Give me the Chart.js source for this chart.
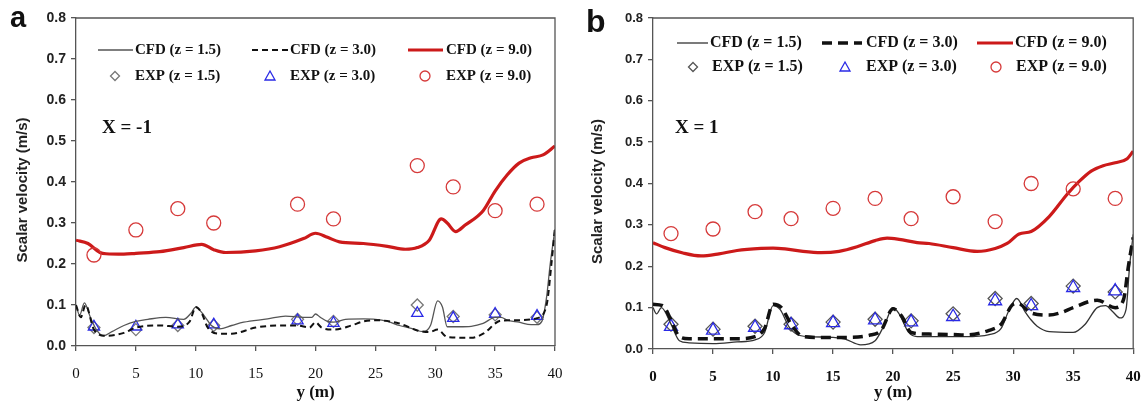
<!DOCTYPE html>
<html><head><meta charset="utf-8">
<script src="https://cdn.jsdelivr.net/npm/chart.js@4.4.0/dist/chart.umd.min.js"></script>
<style>
html,body{margin:0;padding:0;background:#fff;}
#wrap{position:relative;width:1142px;height:405px;}
canvas{position:absolute;top:0;}
#ca{left:0;} #cb{left:571px;}
</style></head>
<body><div id="wrap"><canvas id="ca" width="571" height="405"></canvas><canvas id="cb" width="571" height="405"></canvas></div>
<script>
// ---------- Panel a (X = -1) ----------
const aExpX = [1.5,5,8.5,11.5,18.5,21.5,28.5,31.5,35,38.5];
const aExp15 = [0.045,0.040,0.050,0.050,0.065,0.060,0.100,0.072,0.076,0.070];
const aExp30 = [0.047,0.047,0.052,0.052,0.062,0.056,0.080,0.068,0.078,0.073];
const aExp90 = [0.222,0.283,0.335,0.300,0.346,0.310,0.440,0.388,0.330,0.346];
const aCfd90X = [0,1,2,2.5,4,5,7,9,10.5,11.5,12.5,15,17,19,20,21,22,24,26,27.5,28.5,29.5,30.5,31,31.7,32.5,34,35,36,37,38,39,40];
const aCfd90 = [0.258,0.25,0.228,0.225,0.224,0.226,0.23,0.24,0.248,0.235,0.228,0.232,0.242,0.262,0.275,0.265,0.254,0.25,0.243,0.236,0.24,0.258,0.31,0.3,0.279,0.295,0.33,0.378,0.417,0.446,0.459,0.466,0.488];
const aCfd15X = [0,0.3,0.7,1.2,1.7,2.3,3,4,5,6,7.5,9,9.6,10,10.4,10.8,11.3,12,13,14,16,17.5,19,19.7,20,20.4,21,21.5,22.5,24,25,26,27,28,29,29.6,30.2,30.6,31,32,33,34,35,35.5,36,37,38,38.5,38.9,39.3,39.6,40];
const aCfd15 = [0.1,0.075,0.105,0.07,0.04,0.025,0.035,0.05,0.06,0.065,0.07,0.065,0.08,0.095,0.085,0.07,0.05,0.042,0.05,0.058,0.066,0.073,0.07,0.07,0.078,0.07,0.06,0.058,0.065,0.066,0.065,0.06,0.05,0.043,0.035,0.05,0.11,0.095,0.047,0.047,0.048,0.055,0.07,0.07,0.063,0.058,0.052,0.052,0.06,0.12,0.2,0.285];
const aCfd30X = [0,0.4,0.8,1.5,2.5,4,5,7,8.5,9.5,10,10.5,11,12,13,15,17,18.5,19.5,20,20.5,21.5,23,24,25,27,28.5,29.5,30.2,31,33,34,35.5,37,38.5,39.3,39.7,40];
const aCfd30 = [0.1,0.07,0.1,0.04,0.025,0.032,0.045,0.05,0.047,0.06,0.095,0.08,0.045,0.03,0.03,0.045,0.05,0.05,0.045,0.058,0.045,0.04,0.05,0.06,0.063,0.055,0.038,0.034,0.04,0.022,0.02,0.03,0.062,0.063,0.068,0.1,0.2,0.29];

// ---------- Panel b (X = 1) ----------
const bExpX = [1.5,5,8.5,11.5,15,18.5,21.5,25,28.5,31.5,35,38.5];
const bExp15 = [0.060,0.048,0.055,0.060,0.065,0.072,0.068,0.085,0.122,0.110,0.152,0.138];
const bExp30 = [0.054,0.045,0.052,0.058,0.063,0.070,0.065,0.078,0.116,0.104,0.148,0.140];
const bExp90 = [0.279,0.290,0.332,0.315,0.340,0.364,0.315,0.368,0.308,0.400,0.387,0.364];
const bCfd90X = [0,1,2.5,4,5.5,7,9,10,11,12.5,14,15.5,17,18.5,19.5,20.5,22,23,25,27,28.5,29.5,30.5,31.5,33,34.5,35.5,36.5,37.5,38.5,39.5,40];
const bCfd90 = [0.257,0.245,0.232,0.225,0.23,0.238,0.243,0.244,0.242,0.236,0.233,0.236,0.247,0.262,0.268,0.265,0.257,0.255,0.245,0.236,0.243,0.255,0.278,0.284,0.32,0.374,0.405,0.43,0.443,0.45,0.46,0.478];
const bCfd15X = [0,0.3,0.7,1.5,2.2,3,5,7,8.5,9.3,10,10.6,11.3,12,13,15,16,17.3,18.5,19.3,20,20.5,21.3,22,24,26,28,29,29.6,30.3,31,31.5,32,33,35,36,37,37.7,38.3,38.9,39.4,39.7,40];
const bCfd15 = [0.1,0.085,0.1,0.06,0.02,0.015,0.013,0.017,0.022,0.04,0.105,0.095,0.055,0.035,0.03,0.028,0.024,0.01,0.02,0.06,0.1,0.085,0.04,0.03,0.03,0.03,0.035,0.05,0.09,0.122,0.09,0.07,0.055,0.042,0.04,0.06,0.1,0.105,0.09,0.075,0.095,0.2,0.277];
const bCfd30X = [0,0.8,1.5,2.2,3,7,8.5,9.3,10,10.7,11.5,12.5,14,16,18,19,20,20.7,21.5,23,25,26,28,29,30,30.4,31.5,33,34,35,37,38.5,39.2,39.6,40];
const bCfd30 = [0.108,0.105,0.07,0.03,0.025,0.025,0.03,0.05,0.108,0.1,0.06,0.03,0.028,0.028,0.033,0.045,0.097,0.08,0.04,0.036,0.035,0.034,0.045,0.06,0.108,0.11,0.087,0.082,0.088,0.1,0.118,0.1,0.12,0.2,0.27];

// ---------- Labels ----------
const yTickLabels = ['0.0','0.1','0.2','0.3','0.4','0.5','0.6','0.7','0.8'];
const xTickLabels = ['0','5','10','15','20','25','30','35','40'];
const legendLabels = ['CFD (z = 1.5)','CFD (z = 3.0)','CFD (z = 9.0)','EXP (z = 1.5)','EXP (z = 3.0)','EXP (z = 9.0)'];
const yTitle = 'Scalar velocity (m/s)';
const xTitle = 'y (m)';

const RED = '#cc1a1a';
const pts = (xs, ys) => xs.map((x, i) => ({x: x, y: ys[i]}));

function makeChart(id, P) {
  const ds = [
    {label: legendLabels[0], data: pts(P.c15x, P.c15), showLine: true, borderColor: P.thinColor, borderWidth: 1.3, pointRadius: 0, cubicInterpolationMode: 'monotone', order: 3},
    {label: legendLabels[1], data: pts(P.c30x, P.c30), showLine: true, borderColor: '#111', borderWidth: P.dashW, borderDash: P.dash, pointRadius: 0, cubicInterpolationMode: 'monotone', order: 2},
    {label: legendLabels[2], data: pts(P.c90x, P.c90), showLine: true, borderColor: RED, borderWidth: 3.2, pointRadius: 0, cubicInterpolationMode: 'monotone', order: 1},
    {label: legendLabels[3], data: pts(P.ex, P.e15), showLine: false, pointStyle: 'rectRot', pointRadius: P.triR - 0.5, borderColor: P.diaColor, borderWidth: 1.3, backgroundColor: 'rgba(0,0,0,0)', order: 5},
    {label: legendLabels[4], data: pts(P.ex, P.e30), showLine: false, pointStyle: 'triangle', pointRadius: P.triR, borderColor: '#2a2ae6', borderWidth: 1.3, backgroundColor: 'rgba(0,0,0,0)', order: 4},
    {label: legendLabels[5], data: pts(P.ex, P.e90), showLine: false, pointStyle: 'circle', pointRadius: 7, borderColor: '#d63a3a', borderWidth: 1.3, backgroundColor: 'rgba(0,0,0,0)', order: 0}
  ];
  const deco = {
    id: 'deco',
    afterDraw(chart) {
      const c = chart.ctx, a = chart.chartArea;
      c.save();
      c.strokeStyle = '#555'; c.lineWidth = 1.3;
      c.beginPath(); c.moveTo(a.left, a.top); c.lineTo(a.right, a.top); c.lineTo(a.right, a.bottom); c.stroke();
      c.fillStyle = '#111'; c.font = 'bold ' + P.letterSize + 'px "Liberation Sans", Arial, sans-serif';
      c.textAlign = 'left'; c.textBaseline = 'alphabetic';
      c.fillText(P.letter, P.letterX, P.letterY);
      c.save(); c.translate(P.ytX, (a.top + a.bottom) / 2 + 8); c.rotate(-Math.PI / 2);
      c.font = 'bold 15px "Liberation Sans", Arial, sans-serif'; c.textAlign = 'center'; c.textBaseline = 'middle';
      c.fillStyle = '#222'; c.fillText(yTitle, 0, 0); c.restore();
      c.font = 'bold 17px "Liberation Serif", "Times New Roman", serif'; c.textAlign = 'center'; c.textBaseline = 'middle';
      c.fillText(xTitle, (a.left + a.right) / 2, 393);
      c.font = 'bold 19px "Liberation Serif", "Times New Roman", serif'; c.textAlign = 'left';
      c.fillText(P.xlabel, P.xlabelX, 128);
      c.font = 'bold ' + P.legFont + 'px "Liberation Serif", "Times New Roman", serif'; c.textBaseline = 'middle';
      const r1 = P.row1, r2 = P.row2, L = P.leg;
      c.setLineDash([]); c.strokeStyle = P.thinColor; c.lineWidth = 1.3;
      c.beginPath(); c.moveTo(L[0][0], r1); c.lineTo(L[0][1], r1); c.stroke();
      c.fillStyle = '#111'; c.fillText(legendLabels[0], L[0][2], r1);
      c.setLineDash(P.dash); c.strokeStyle = '#111'; c.lineWidth = P.dashW;
      c.beginPath(); c.moveTo(L[1][0], r1); c.lineTo(L[1][1], r1); c.stroke();
      c.setLineDash([]);
      c.fillText(legendLabels[1], L[1][2], r1);
      c.strokeStyle = RED; c.lineWidth = 3.2;
      c.beginPath(); c.moveTo(L[2][0], r1); c.lineTo(L[2][1], r1); c.stroke();
      c.fillText(legendLabels[2], L[2][2], r1);
      c.lineWidth = 1.3;
      c.strokeStyle = P.diaColor; const dx = L[0][3], s = 4.5;
      c.beginPath(); c.moveTo(dx, r2 - s); c.lineTo(dx + s, r2); c.lineTo(dx, r2 + s); c.lineTo(dx - s, r2); c.closePath(); c.stroke();
      c.fillText(legendLabels[3], L[0][4], r2);
      c.strokeStyle = '#2a2ae6'; const tx = L[1][3];
      c.beginPath(); c.moveTo(tx, r2 - 5); c.lineTo(tx + 5, r2 + 4); c.lineTo(tx - 5, r2 + 4); c.closePath(); c.stroke();
      c.fillText(legendLabels[4], L[1][4], r2);
      c.strokeStyle = '#d63a3a';
      c.beginPath(); c.arc(L[2][3], r2, 5, 0, Math.PI * 2); c.stroke();
      c.fillText(legendLabels[5], L[2][4], r2);
      c.restore();
    }
  };
  return new Chart(document.getElementById(id), {
    type: 'scatter',
    data: {datasets: ds},
    options: {
      responsive: false, animation: false, devicePixelRatio: 1,
      layout: {padding: {left: 0, right: P.padR, top: P.padT, bottom: 0}},
      plugins: {legend: {display: false}, tooltip: {enabled: false}},
      scales: {
        x: {type: 'linear', min: 0, max: 40,
            afterFit: s => { s.height = P.xH; s.paddingLeft = 0; s.paddingRight = 0; },
            afterBuildTicks: s => { s.ticks = xTickLabels.map(v => ({value: Number(v)})); },
            ticks: {callback: (v, i) => xTickLabels[i], color: '#111', padding: 14,
                    font: {family: '"Liberation Serif", "Times New Roman", serif', size: 15, weight: P.xTickWeight}},
            grid: {drawOnChartArea: false, drawTicks: true, tickLength: 5, color: '#555', lineWidth: 1.3},
            border: {display: true, color: '#555', width: 1.3}},
        y: {type: 'linear', min: 0, max: 0.8,
            afterFit: s => { s.width = P.yW; s.paddingTop = 0; s.paddingBottom = 0; },
            afterBuildTicks: s => { s.ticks = yTickLabels.map(v => ({value: Number(v)})); },
            ticks: {callback: (v, i) => yTickLabels[i], color: '#222', padding: 5,
                    font: {family: '"Liberation Sans", Arial, sans-serif', size: P.yTickSize, weight: 'bold'}},
            grid: {drawOnChartArea: false, drawTicks: true, tickLength: 5, color: '#555', lineWidth: 1.3},
            border: {display: true, color: '#555', width: 1.3}}
      }
    },
    plugins: [deco]
  });
}

makeChart('ca', {
  ex: aExpX, e15: aExp15, e30: aExp30, e90: aExp90,
  c15x: aCfd15X, c15: aCfd15, c30x: aCfd30X, c30: aCfd30, c90x: aCfd90X, c90: aCfd90,
  thinColor: '#555', diaColor: '#777', dash: [6, 4], dashW: 2, triR: 6.5,
  letter: 'a', letterSize: 29, letterX: 10, letterY: 27, ytX: 23, xlabel: 'X = -1', xlabelX: 102,
  padR: 16, padT: 18, xH: 59, yW: 76, xTickWeight: 'normal', yTickSize: 14,
  legFont: 15, row1: 50, row2: 76,
  leg: [[98, 133, 135, 115, 135], [252, 288, 290, 270, 290], [408, 443, 446, 425, 446]]
});
makeChart('cb', {
  ex: bExpX, e15: bExp15, e30: bExp30, e90: bExp90,
  c15x: bCfd15X, c15: bCfd15, c30x: bCfd30X, c30: bCfd30, c90x: bCfd90X, c90: bCfd90,
  thinColor: '#333', diaColor: '#555', dash: [10, 6], dashW: 3.5, triR: 7.5,
  letter: 'b', letterSize: 32, letterX: 15, letterY: 32, ytX: 27, xlabel: 'X = 1', xlabelX: 104,
  padR: 7, padT: 18, xH: 56, yW: 82, xTickWeight: 'bold', yTickSize: 13,
  legFont: 16, row1: 43, row2: 67,
  leg: [[106, 137, 139, 122, 141], [251, 291, 295, 274, 295], [406, 442, 444, 425, 445]]
});
</script>
</body></html>
